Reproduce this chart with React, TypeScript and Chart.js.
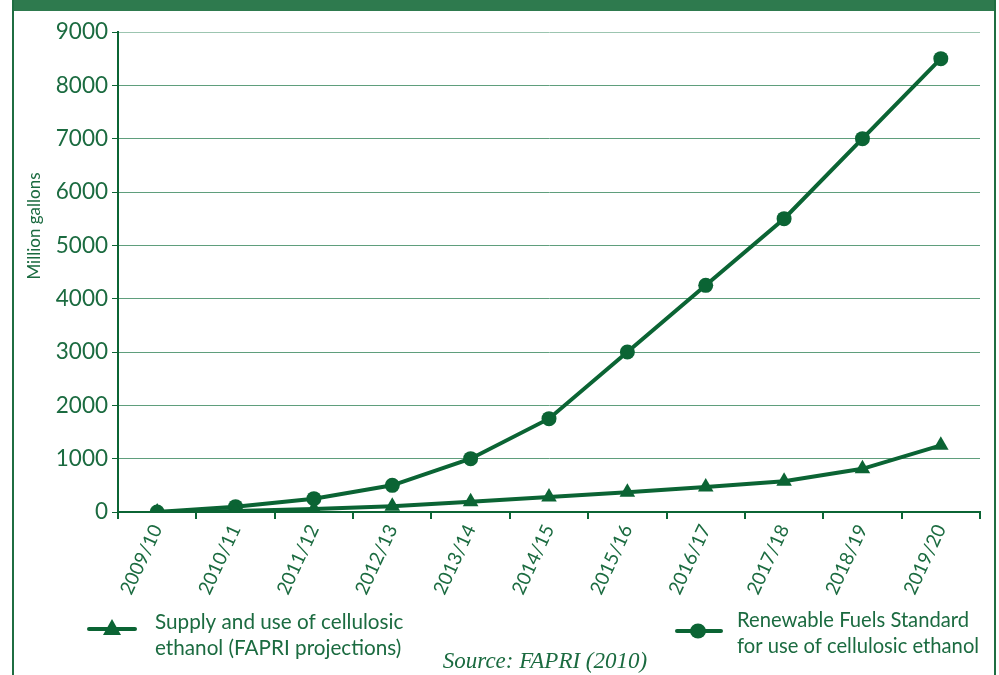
import React, { useEffect, useRef } from "react";
import { Chart, registerables } from "chart.js";

Chart.register(...registerables);

const categories = ["2009/10", "2010/11", "2011/12", "2012/13", "2013/14", "2014/15", "2015/16", "2016/17", "2017/18", "2018/19", "2019/20"];
const fapriSupply = [0, 20, 55, 110, 190, 280, 370, 470, 575, 810, 1250];
const rfsMandate = [0, 100, 250, 500, 1000, 1750, 3000, 4250, 5500, 7000, 8500];
const yTicks = [0, 1000, 2000, 3000, 4000, 5000, 6000, 7000, 8000, 9000];
const legendLeft = ["Supply and use of cellulosic", "ethanol (FAPRI projections)"];
const legendRight = ["Renewable Fuels Standard", "for use of cellulosic ethanol"];
const yTitle = "Million gallons";
const sourceText = "Source: FAPRI (2010)";

const DARK = "#0b6434";
const TEXT = "#1b6b40";
const GRID = "#5f9e7c";
const GRID_TOP = "#9cc5b0";
const FONT = "Lato";

const decorPlugin = {
  id: "decor",
  afterDraw(chart: any) {
    const ctx = chart.ctx;
    ctx.save();
    ctx.fillStyle = TEXT;
    ctx.font = `17px ${FONT}`;
    ctx.textAlign = "center";
    ctx.textBaseline = "middle";
    ctx.translate(35, 226);
    ctx.rotate(-Math.PI / 2);
    ctx.fillText(yTitle, 0, 0);
    ctx.restore();

    ctx.save();
    ctx.strokeStyle = DARK;
    ctx.fillStyle = DARK;
    ctx.lineWidth = 4;
    ctx.lineCap = "round";
    ctx.beginPath();
    ctx.moveTo(89, 629);
    ctx.lineTo(135, 629);
    ctx.stroke();
    ctx.beginPath();
    ctx.moveTo(112, 619);
    ctx.lineTo(121, 635);
    ctx.lineTo(103, 635);
    ctx.closePath();
    ctx.fill();

    ctx.beginPath();
    ctx.moveTo(677, 631);
    ctx.lineTo(721, 631);
    ctx.stroke();
    ctx.beginPath();
    ctx.ellipse(698, 631, 8, 7.5, 0, 0, Math.PI * 2);
    ctx.fill();

    ctx.fillStyle = TEXT;
    ctx.textAlign = "left";
    ctx.textBaseline = "middle";
    ctx.font = `20.7px ${FONT}`;
    ctx.fillText(legendLeft[0], 155, 622);
    ctx.fillText(legendLeft[1], 155, 648);
    ctx.font = `20.2px ${FONT}`;
    ctx.fillText(legendRight[0], 737, 620);
    ctx.fillText(legendRight[1], 737, 646);

    ctx.font = `italic 23px "Liberation Serif"`;
    ctx.textAlign = "center";
    ctx.fillText(sourceText, 545, 662);
    ctx.restore();
  },
};

export default function App() {
  const ref = useRef<HTMLCanvasElement>(null);
  useEffect(() => {
    if (!ref.current) return;
    const chart = new Chart(ref.current, {
      type: "line",
      data: {
        labels: categories,
        datasets: [
          {
            label: "Supply and use of cellulosic ethanol (FAPRI projections)",
            data: fapriSupply,
            borderColor: DARK,
            backgroundColor: DARK,
            borderWidth: 4,
            pointStyle: "triangle",
            pointRadius: 9,
            pointHoverRadius: 9,
            pointBorderWidth: 0,
            tension: 0,
          },
          {
            label: "Renewable Fuels Standard for use of cellulosic ethanol",
            data: rfsMandate,
            borderColor: DARK,
            backgroundColor: DARK,
            borderWidth: 4,
            pointStyle: "circle",
            pointRadius: 7.5,
            pointHoverRadius: 7.5,
            pointBorderWidth: 0,
            tension: 0,
          },
        ],
      },
      options: {
        responsive: false,
        animation: false,
        devicePixelRatio: 1,
        layout: { padding: { left: 0, right: 19, top: 32, bottom: 0 } },
        plugins: { legend: { display: false }, tooltip: { enabled: false }, title: { display: false } },
        scales: {
          x: {
            type: "category",
            offset: true,
            afterFit(scale: any) {
              scale.height = 163;
            },
            grid: {
              offset: true,
              drawOnChartArea: false,
              drawTicks: true,
              tickLength: 7,
              tickColor: DARK,
              lineWidth: 2,
              color: DARK,
            },
            border: { display: true, color: DARK, width: 2 },
            ticks: {
              color: TEXT,
              font: { family: FONT, size: 19 },
              minRotation: 65,
              maxRotation: 65,
              autoSkip: false,
              padding: 2,
            },
          },
          y: {
            min: 0,
            max: 9000,
            afterFit(scale: any) {
              scale.width = 118;
            },
            afterBuildTicks(scale: any) {
              scale.ticks = yTicks.map((v) => ({ value: v }));
            },
            grid: {
              color: (c: any) => (c.tick && c.tick.value === 9000 ? GRID_TOP : GRID),
              lineWidth: 1,
              drawTicks: true,
              tickLength: 6,
              tickColor: DARK,
            },
            border: { display: true, color: DARK, width: 2 },
            ticks: {
              color: TEXT,
              font: { family: FONT, size: 22.5 },
              padding: 4,
              callback: (v: any) => String(v),
            },
          },
        },
      },
      plugins: [decorPlugin],
    });
    return () => chart.destroy();
  }, []);

  return (
    <div style={{ position: "fixed", left: 0, top: 0, width: 999, height: 675, background: "#fff", overflow: "hidden" }}>
      <canvas ref={ref} width={999} height={675} style={{ position: "absolute", left: 0, top: 0 }} />
      <div style={{ position: "absolute", left: 12, top: 0, width: 984, height: 11, background: "#2e7a4e" }} />
      <div style={{ position: "absolute", left: 12, top: 0, width: 2, height: 675, background: "#1f6e42" }} />
      <div style={{ position: "absolute", left: 994, top: 0, width: 2, height: 675, background: "#1f6e42" }} />
    </div>
  );
}
